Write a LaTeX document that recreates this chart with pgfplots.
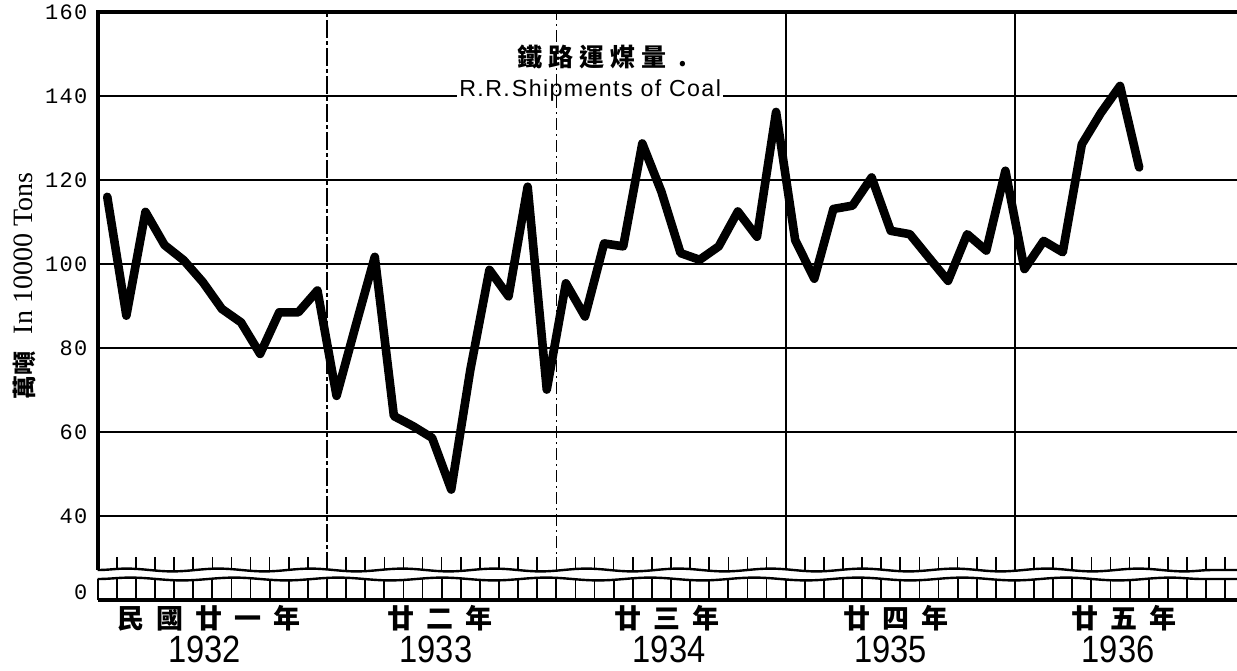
\documentclass[border=0pt]{standalone}
\usepackage{fontspec}
\usepackage{pgfplots}
\usepackage{pgfplotstable}
\pgfplotsset{compat=1.18}
\usetikzlibrary{decorations.pathmorphing}
\setmainfont{Liberation Sans}
\newfontfamily\cjk{Noto Sans CJK TC}
\newfontfamily\monof{Liberation Mono}[LetterSpace=6]
\newfontfamily\yearf{Liberation Sans}[FakeStretch=0.86]
\newfontfamily\engf{Liberation Sans}[LetterSpace=6]
\newfontfamily\serf{Liberation Serif}

% monthly shipments, Jan 1932 (x=0.5) ... Jul 1936 (x=54.5), in 10000 tons
\pgfplotstableread{
x y
0.5 116.0
1.5 87.7
2.5 112.4
3.5 104.5
4.5 100.9
5.5 95.7
6.5 89.3
7.5 86.1
8.5 78.6
9.5 88.5
10.5 88.5
11.5 93.7
12.5 68.6
13.5 85.3
14.5 101.7
15.5 63.8
16.5 61.4
17.5 58.6
18.5 46.3
19.5 74.8
20.5 98.6
21.5 92.3
22.5 118.4
23.5 70.1
24.5 95.4
25.5 87.5
26.5 104.9
27.5 104.2
28.5 128.7
29.5 117.2
30.5 102.6
31.5 101.0
32.5 104.2
33.5 112.5
34.5 106.5
35.5 136.2
36.5 105.7
37.5 96.5
38.5 113.1
39.5 113.9
40.5 120.6
41.5 107.9
42.5 107.1
43.5 101.5
44.5 96.0
45.5 107.1
46.5 103.2
47.5 122.2
48.5 98.8
49.5 105.5
50.5 102.8
51.5 128.5
52.5 136.0
53.5 142.4
54.5 123.0
}\coaldata

\newcommand{\cjklab}{\cjk\bfseries\fontsize{13.5}{14}\selectfont}
\newcommand{\yearlab}{\yearf\fontsize{19}{19}\selectfont}

\begin{document}
\begin{tikzpicture}
\begin{axis}[
  scale only axis,
  width=569.65pt, height=294pt,
  xmin=0, xmax=59.62, ymin=20, ymax=160,
  axis line style={draw=none},
  clip=false,
  xtick=\empty,
  ytick={40,60,80,100,120,140,160},
  yticklabels={40,60,80,100,120,140,160},
  extra y ticks={21.8},
  extra y tick labels={0},
  extra y tick style={grid=none},
  ymajorgrids,
  grid style={black, line width=1.3pt},
  major tick length=0pt,
  yticklabel style={font=\monof\fontsize{11}{11}\selectfont, inner sep=0pt, xshift=-5pt},
]
% title
\node[anchor=west, inner sep=0pt, font=\cjk\bfseries\fontsize{12.5}{12.5}\selectfont]
  at (axis cs:21.94,149.3) {鐵\hspace{3pt}路\hspace{3pt}運\hspace{3pt}煤\hspace{3pt}量\hspace{6pt}.};
\node[anchor=base west, fill=white, inner xsep=1pt, inner ysep=2.2pt, font=\engf\fontsize{11.6}{12}\selectfont]
  at (axis cs:18.80,140) {R.R.\hspace{1pt}Shipments of Coal};

% data
\addplot[black, line width=4.3pt, line join=round, line cap=round] table[x=x, y=y] {\coaldata};

% year labels
\node[anchor=base, yshift=-14.4pt, font=\cjklab] at (axis cs:5.8,20) {民\hspace{6pt}國\hspace{6pt}廿\hspace{6pt}一\hspace{6pt}年};
\node[anchor=base, yshift=-14.4pt, font=\cjklab] at (axis cs:17.9,20) {廿\hspace{6pt}二\hspace{6pt}年};
\node[anchor=base, yshift=-14.4pt, font=\cjklab] at (axis cs:29.8,20) {廿\hspace{6pt}三\hspace{6pt}年};
\node[anchor=base, yshift=-14.4pt, font=\cjklab] at (axis cs:41.8,20) {廿\hspace{6pt}四\hspace{6pt}年};
\node[anchor=base, yshift=-14.4pt, font=\cjklab] at (axis cs:53.7,20) {廿\hspace{6pt}五\hspace{6pt}年};
\node[anchor=base, yshift=-31pt, font=\yearlab] at (axis cs:5.6,20) {1932};
\node[anchor=base, yshift=-31pt, font=\yearlab] at (axis cs:17.7,20) {1933};
\node[anchor=base, yshift=-31pt, font=\yearlab] at (axis cs:29.9,20) {1934};
\node[anchor=base, yshift=-31pt, font=\yearlab] at (axis cs:41.5,20) {1935};
\node[anchor=base, yshift=-31pt, font=\yearlab] at (axis cs:53.4,20) {1936};
\end{axis}

% frame: top and left
\draw[line width=2pt] (0,294pt) -- (569.65pt,294pt);
\draw[line width=2pt] (0,15pt) -- (0,295pt);
% year dividers
\draw[line width=0.8pt, dash pattern=on 9pt off 1.5pt on 2pt off 1.5pt] (12*9.5546pt,15pt) -- (12*9.5546pt,294pt);
\draw[line width=0.8pt, dash pattern=on 6pt off 2pt on 1pt off 2pt] (24*9.5546pt,15pt) -- (24*9.5546pt,294pt);
\draw[line width=1pt] (36*9.5546pt,15pt) -- (36*9.5546pt,294pt);
\draw[line width=1pt] (48*9.5546pt,15pt) -- (48*9.5546pt,294pt);
% broken-axis band
\draw[line width=1.2pt, decorate, decoration={snake, amplitude=0.7pt, segment length=46pt}] (0,15pt) -- (569.65pt,15pt);
\draw[line width=1.2pt, decorate, decoration={snake, amplitude=0.7pt, segment length=52pt}] (0,10.5pt) -- (569.65pt,10.5pt);
\foreach \k in {1,...,59} {
  \draw[line width=0.8pt] (\k*9.5546pt,15pt) -- (\k*9.5546pt,21.5pt);
}
\foreach \k in {0,...,59} {
  \draw[line width=0.9pt] (\k*9.5546pt,0) -- (\k*9.5546pt,10.5pt);
}
\draw[line width=2.4pt] (0,0) -- (569.65pt,0);

% y axis label
\node[rotate=90, font=\serf\fontsize{14}{15}\selectfont] at (-37.3pt,173.2pt) {In 10000 Tons};
\node[rotate=90, font=\cjk\bfseries\fontsize{12}{12}\selectfont] at (-36.8pt,112.5pt) {萬噸};

\pgfresetboundingbox
\path (-48.85pt,-35pt) rectangle (569.65pt,300pt);
\end{tikzpicture}
\end{document}
